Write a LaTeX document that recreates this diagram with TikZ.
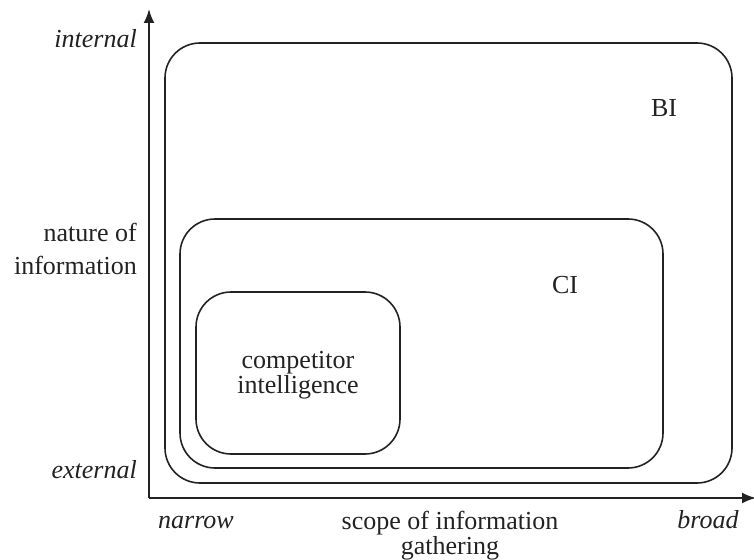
\documentclass[tikz,border=0pt]{standalone}
\usepackage{fontspec}
\setmainfont{Liberation Serif}
\usetikzlibrary{arrows.meta}
\definecolor{ink}{HTML}{222222}
\tikzset{
  box/.style={draw=ink, line width=1.6pt, rounded corners=35pt, inner sep=0pt, outer sep=0pt},
  axis/.style={draw=ink, line width=2pt, -{Latex[length=14pt,width=11pt]}},
  lbl/.style={text=ink, font=\fontsize{26}{31}\selectfont, inner sep=0pt, align=center},
  ilbl/.style={lbl, font=\fontsize{26}{31}\selectfont\itshape}
}
\begin{document}
\begin{tikzpicture}[x=1pt,y=-1pt]
\useasboundingbox (0,0) rectangle (754,559);
\clip (0,0) rectangle (754,559);
% axes
\coordinate (O) at (149,498);
\coordinate (ytop) at (149,9);
\coordinate (xend) at (756,498);
\draw[axis] (O) -- (ytop);
\draw[axis] (O) -- (xend);
% boxes
\node[box, minimum width=567pt, minimum height=440pt] (bi) at (448.5,263) {};
\node[box, minimum width=483pt, minimum height=249pt] (ci) at (421.5,343.5) {};
\node[box, minimum width=204pt, minimum height=162pt] (cit) at (298,373) {};
% labels in boxes
\node[lbl, anchor=base] (bil) at (664,117) {BI};
\node[lbl, anchor=base] (cil) at (565,293) {CI};
\node[lbl, anchor=north, font=\fontsize{26}{25}\selectfont] (citl) at (298,351) {competitor\\intelligence};
% axis labels
\node[ilbl, anchor=base east] (int) at (137,48) {internal};
\node[ilbl, anchor=base east] (ext) at (137,478) {external};
\node[lbl, anchor=north east, align=right, font=\fontsize{26}{33}\selectfont] (nat) at (137,223) {nature of\\information};
\node[ilbl, anchor=base] (nar) at (196,528) {narrow};
\node[ilbl, anchor=base] (bro) at (708,528) {broad};
\node[lbl, anchor=north, font=\fontsize{26}{25}\selectfont] (sc) at (450,511) {scope of information\\gathering};
\end{tikzpicture}
\end{document}
